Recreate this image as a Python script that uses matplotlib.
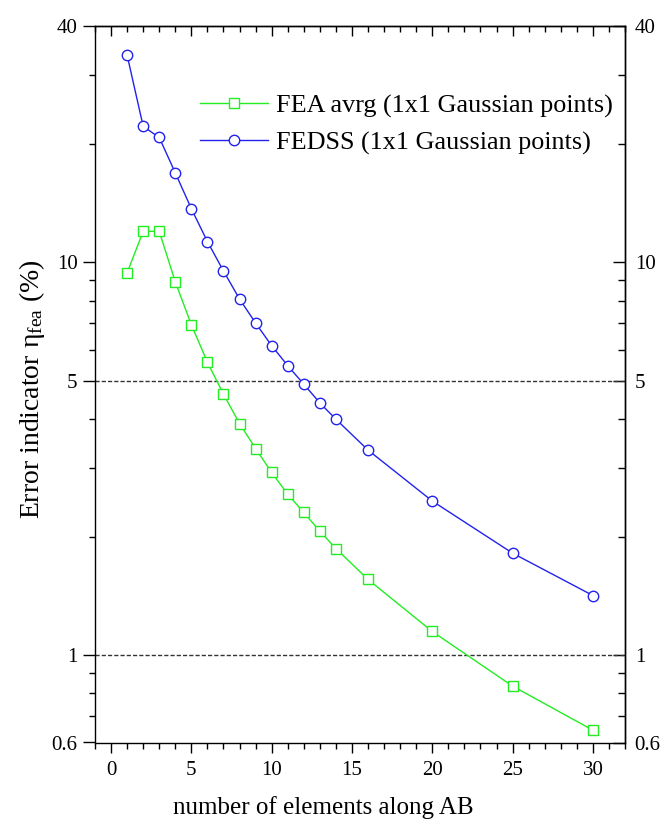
import matplotlib
matplotlib.use("Agg")
import matplotlib.pyplot as plt
from matplotlib.ticker import FixedLocator, FixedFormatter, MultipleLocator

plt.rcParams["font.family"] = ["Liberation Serif", "DejaVu Serif"]
plt.rcParams["mathtext.fontset"] = "custom"
plt.rcParams["mathtext.rm"] = "Liberation Serif"
plt.rcParams["mathtext.it"] = "Liberation Serif:italic"

# data
n_elements = [1, 2, 3, 4, 5, 6, 7, 8, 9, 10, 11, 12, 13, 14, 16, 20, 25, 30]
fea_avrg = [9.41, 12.0, 12.0, 8.92, 6.94, 5.57, 4.62, 3.89, 3.36, 2.92,
            2.57, 2.31, 2.07, 1.87, 1.56, 1.15, 0.835, 0.645]
fedss = [33.7, 22.2, 20.8, 16.9, 13.7, 11.3, 9.51, 8.07, 7.01, 6.14,
         5.46, 4.90, 4.39, 3.99, 3.33, 2.47, 1.82, 1.42]

y_major = [0.6, 1, 5, 10, 40]
y_major_labels = ["0.6", "1", "5", "10", "40"]
y_minor = [0.7, 0.8, 0.9, 2, 3, 4, 6, 7, 8, 9, 20, 30]
ref_levels = [1, 5]

green = "#22ee22"
blue = "#2222ee"

fig = plt.figure(figsize=(6.67, 8.21), dpi=100)
ax = fig.add_axes([95 / 667, 1 - 742.5 / 821, 530 / 667, (742.5 - 25.9) / 821])

for lvl in ref_levels:
    ax.axhline(lvl, color="#333333", lw=1.0, ls=(0, (3, 1.5)), zorder=1)

ax.plot(n_elements, fea_avrg, color=green, lw=1.0, marker="s", ms=7.5,
        mfc="white", mec=green, mew=1.0, label="FEA avrg (1x1 Gaussian points)",
        zorder=3)
ax.plot(n_elements, fedss, color=blue, lw=1.0, marker="o", ms=7.5,
        mfc="white", mec=blue, mew=1.0, label="FEDSS (1x1 Gaussian points)",
        zorder=3)

ax.set_yscale("log")
ax.set_ylim(0.6, 40)
ax.set_xlim(-1, 32)

ax.yaxis.set_major_locator(FixedLocator(y_major))
ax.yaxis.set_major_formatter(FixedFormatter(y_major_labels))
ax.yaxis.set_minor_locator(FixedLocator(y_minor))
ax.yaxis.set_minor_formatter(FixedFormatter([]))
ax.xaxis.set_major_locator(MultipleLocator(5))
ax.xaxis.set_minor_locator(MultipleLocator(1))

for s in ax.spines.values():
    s.set_linewidth(1.0)

ax.tick_params(axis="x", which="both", direction="out", top=False,
               labelsize=15, pad=6)
ax.tick_params(axis="x", which="major", length=7.5, width=1.0)
ax.tick_params(axis="x", which="minor", length=4, width=1.0)
ax.tick_params(axis="y", which="both", direction="out", right=False,
               labelsize=15, pad=4)
ax.tick_params(axis="y", which="major", length=8.5, width=1.0)
ax.tick_params(axis="y", which="minor", length=4.5, width=1.0)

# top axis: inward ticks
top = ax.secondary_xaxis("top")
top.xaxis.set_major_locator(MultipleLocator(5))
top.xaxis.set_minor_locator(MultipleLocator(1))
top.tick_params(which="both", direction="in", labeltop=False, width=1.0)
top.tick_params(which="major", length=7.5)
top.tick_params(which="minor", length=4.5)
top.spines["top"].set_linewidth(1.0)

# right axis: inward ticks with labels
right = ax.secondary_yaxis("right")
right.yaxis.set_major_locator(FixedLocator(y_major))
right.yaxis.set_major_formatter(FixedFormatter(y_major_labels))
right.yaxis.set_minor_locator(FixedLocator(y_minor))
right.yaxis.set_minor_formatter(FixedFormatter([]))
right.tick_params(which="both", direction="in", labelsize=15, pad=7, width=1.0)
right.tick_params(which="major", length=8.5)
right.tick_params(which="minor", length=5)
right.spines["right"].set_linewidth(1.0)

ax.set_xlabel("number of elements along AB", fontsize=18)
ax.xaxis.set_label_coords(0.43, -0.074)
ax.set_ylabel("Error indicator η$_{\\mathrm{fea}}$ (%)", fontsize=20)
ax.yaxis.set_label_coords(-0.09, 0.493)

ax.legend(loc="center left", bbox_to_anchor=(200 / 667, 1 - 124.5 / 821),
          bbox_transform=fig.transFigure, frameon=False, fontsize=18.8,
          borderpad=0, borderaxespad=0, handlelength=2.6, handletextpad=0.3,
          labelspacing=0.5)

fig.savefig("out.png", dpi=100)
